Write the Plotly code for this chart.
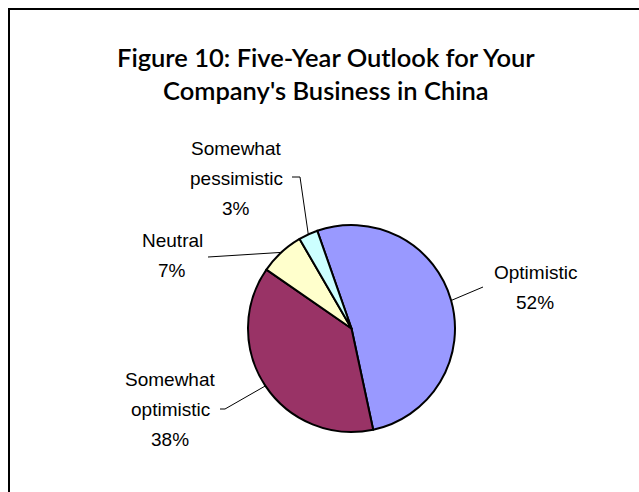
import math
import plotly.graph_objects as go

# Survey answers, drawn clockwise
categories = ["Optimistic", "Somewhat optimistic", "Neutral", "Somewhat pessimistic"]
shares = [52, 38, 7, 3]
label_lines = [["Optimistic"], ["Somewhat", "optimistic"], ["Neutral"], ["Somewhat", "pessimistic"]]
slice_colors = ["#9999FF", "#993366", "#FFFFCC", "#CCFFFF"]

W, H = 639, 492
START_ANGLE = -19.3          # first slice starts this many degrees clockwise of 12 o'clock
CX, CY, R = 351.5, 328.5, 103.5   # pie centre / radius in pixels

FONT = "Liberation Sans, Arial, sans-serif"
LABEL_SIZE = 19
LINE_STEP = 30

# label block centre (x, y of the first line) and the elbow of each leader line
label_pos = [(535, 272), (170, 379), (172, 240), (236, 148)]
leader_pts = [
    [(483, 287)],
    [(225, 409), (220, 409)],
    [(208, 257)],
    [(300, 177), (292, 177)],
]

fig = go.Figure()

fig.add_trace(go.Pie(
    labels=categories,
    values=shares,
    sort=False,
    direction="clockwise",
    rotation=START_ANGLE,
    marker=dict(colors=slice_colors, line=dict(color="black", width=2)),
    textinfo="none",
    hoverinfo="label+percent",
    showlegend=False,
    domain=dict(x=[(CX - R) / W, (CX + R) / W], y=[1 - (CY + R) / H, 1 - (CY - R) / H]),
))

# pixel-space axes for leader lines and labels
fig.update_layout(
    xaxis=dict(range=[0, W], visible=False, fixedrange=True),
    yaxis=dict(range=[H, 0], visible=False, fixedrange=True),
)

total = sum(shares)
angle = START_ANGLE
shapes = []
annotations = []
for i, v in enumerate(shares):
    span = 360 * v / total
    mid = math.radians(angle + span / 2)
    angle += span
    ex, ey = CX + R * math.sin(mid), CY - R * math.cos(mid)
    pts = [(ex, ey)] + leader_pts[i]
    path = "M " + " L ".join(f"{x:.1f},{y:.1f}" for x, y in pts)
    shapes.append(dict(type="path", path=path, xref="x", yref="y",
                       line=dict(color="black", width=1)))
    lx, ly = label_pos[i]
    lines = label_lines[i] + [f"{round(100 * v / total)}%"]
    for k, t in enumerate(lines):
        annotations.append(dict(x=lx, y=ly + k * LINE_STEP, xref="x", yref="y", text=t,
                                showarrow=False, xanchor="center", yanchor="middle",
                                font=dict(family=FONT, size=LABEL_SIZE, color="black")))

# outer frame
shapes.append(dict(type="rect", xref="x", yref="y", x0=9, y0=9, x1=645, y1=500,
                   line=dict(color="black", width=2), fillcolor="rgba(0,0,0,0)"))

title_lines = ["Figure 10: Five-Year Outlook for Your", "Company's Business in China"]
for k, t in enumerate(title_lines):
    annotations.append(dict(
        x=326, y=57 + k * 33, xref="x", yref="y", yanchor="middle", xanchor="center",
        text=t, showarrow=False,
        font=dict(family="Lato, sans-serif", size=25.5, color="black", weight=600),
    ))

fig.update_layout(
    width=W, height=H,
    margin=dict(l=0, r=0, t=0, b=0),
    paper_bgcolor="white", plot_bgcolor="white",
    shapes=shapes, annotations=annotations,
)

fig.write_html("out.html")
